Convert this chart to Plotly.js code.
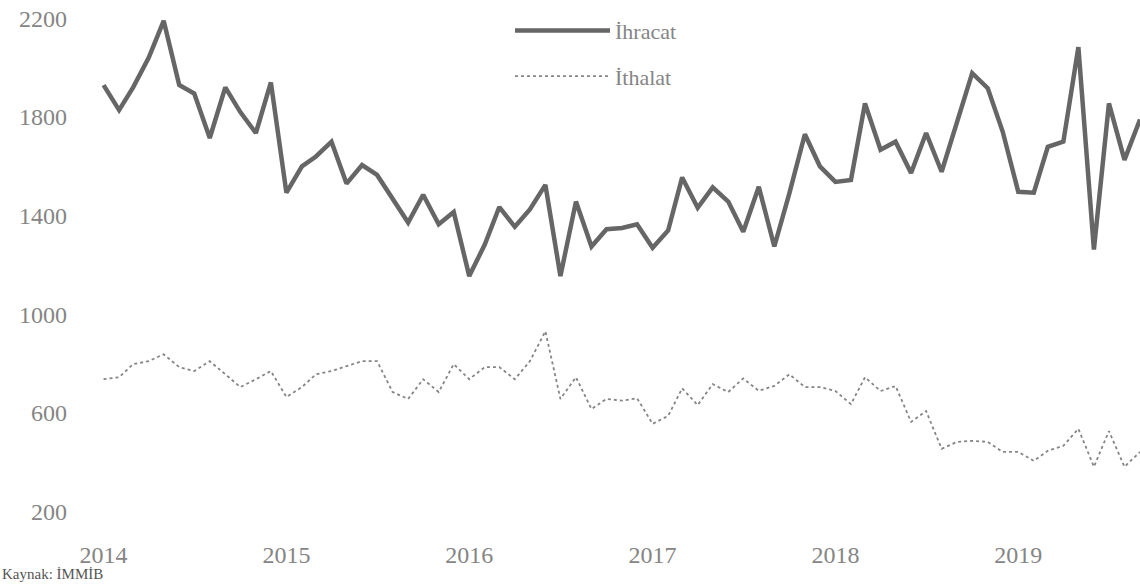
<!DOCTYPE html>
<html>
<head>
<meta charset="utf-8">
<script src="https://cdn.plot.ly/plotly-3.0.1.min.js"></script>
<style>html,body{margin:0;padding:0;background:#fff;}#chart{width:1140px;height:585px;}</style>
</head>
<body>
<div id="chart"></div>
<script>
// Monthly data, Jan 2014 – Sep 2019
const startYear = 2014;
const monthCount = 69;
const ihracat = [
  1929, 1828, 1920, 2040, 2190, 1930, 1895, 1715, 1920, 1820, 1735, 1940,
  1493, 1600, 1640, 1700, 1530, 1605, 1565, 1465, 1372, 1485, 1365, 1415,
  1155, 1283, 1435, 1355, 1425, 1525, 1155, 1457, 1275, 1345, 1350, 1365,
  1270, 1340, 1555, 1432, 1515, 1457, 1335, 1517, 1275, 1490, 1730, 1600,
  1537, 1545, 1855, 1667, 1700, 1573, 1735, 1578, 1788, 1978, 1917, 1740,
  1497, 1493, 1679, 1700, 2083, 1263, 1855, 1626, 1790
];
const ithalat = [
  737, 745, 798, 810, 838, 786, 770, 810, 757, 705, 737, 770,
  665, 705, 757, 770, 790, 810, 810, 685, 657, 737, 685, 798,
  737, 786, 786, 737, 810, 931, 657, 745, 616, 657, 650, 660,
  556, 588, 700, 632, 717, 685, 740, 690, 710, 757, 705, 705,
  689, 636, 745, 689, 709, 564, 608, 455, 483, 487, 483, 442,
  442, 406, 447, 467, 536, 382, 527, 382, 442
];
const seriesNames = ['İhracat', 'İthalat'];
const yTicks = [200, 600, 1000, 1400, 1800, 2200];
const sourceText = 'Kaynak: İMMİB';

const dates = [];
for (let i = 0; i < monthCount; i++) {
  const y = startYear + Math.floor(i / 12);
  const m = (i % 12) + 1;
  dates.push(y + '-' + String(m).padStart(2, '0') + '-01');
}

const textColor = '#858585';
const fontFam = '"Liberation Serif", "DejaVu Serif", serif';

const traces = [
  {
    x: dates, y: ihracat, name: seriesNames[0], legendgroup: 'a', type: 'scatter', mode: 'lines',
    line: {color: '#666666', width: 4.5}
  },
  {
    x: dates, y: ithalat, name: seriesNames[1], legendgroup: 'b', type: 'scatter', mode: 'lines',
    line: {color: '#858585', width: 1.8, dash: 'dot'}
  }
];

const layout = {
  width: 1140, height: 585,
  margin: {l: 68, r: 0, t: 6, b: 61, pad: 0},
  paper_bgcolor: '#ffffff', plot_bgcolor: '#ffffff',
  font: {family: fontFam, size: 24, color: textColor},
  showlegend: true,
  legend: {
    x: (510 - 68) / 1072, y: 0.993, xanchor: 'left', yanchor: 'top',
    bgcolor: 'rgba(0,0,0,0)', borderwidth: 0,
    traceorder: 'grouped', tracegroupgap: 14,
    font: {family: fontFam, size: 22, color: textColor},
    itemwidth: 95
  },
  xaxis: {
    type: 'date',
    range: ['2013-10-22', '2019-09-01'],
    tick0: '2014-01-01', dtick: 'M12', tickformat: '%Y',
    showgrid: false, zeroline: false, showline: false, ticks: '',
    ticklabelstandoff: 14,
    tickfont: {family: fontFam, size: 24, color: textColor}
  },
  yaxis: {
    range: [150, 2250],
    tickvals: yTicks,
    showgrid: false, zeroline: false, showline: false, ticks: '',
    tickfont: {family: fontFam, size: 24, color: textColor}
  },
  annotations: [
    {
      xref: 'paper', yref: 'paper', x: -68 / 1072, y: -0.1165,
      xanchor: 'left', yanchor: 'bottom', showarrow: false,
      text: sourceText, font: {family: fontFam, size: 15, color: '#555'}
    }
  ]
};

Plotly.newPlot('chart', traces, layout, {displayModeBar: false, staticPlot: true});
</script>
</body>
</html>
